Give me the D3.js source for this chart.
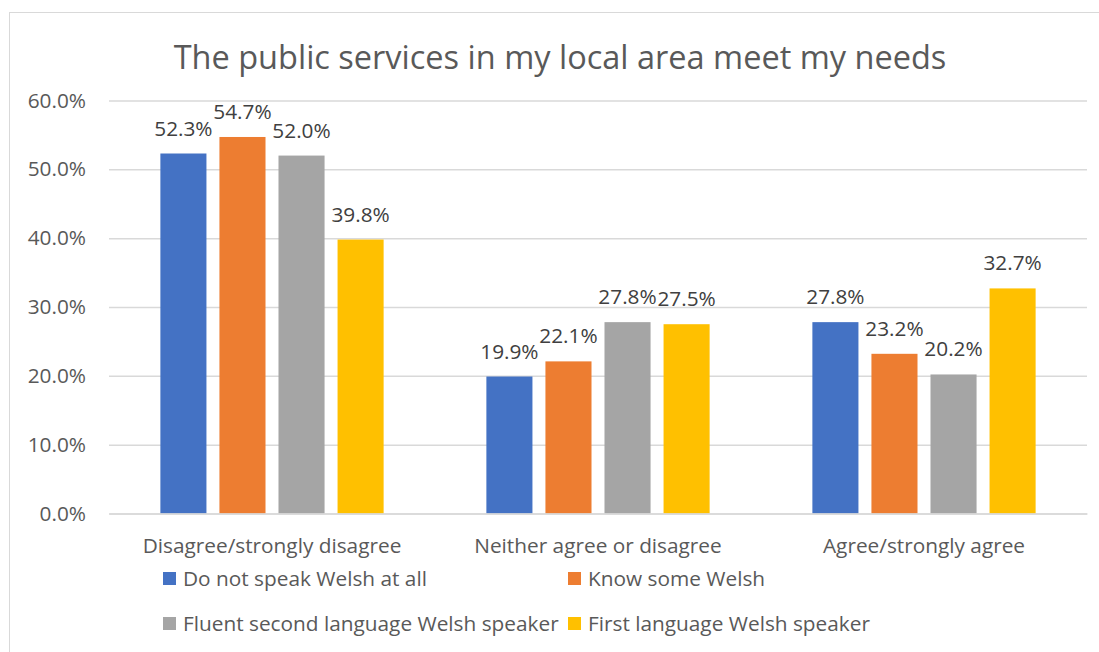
<!DOCTYPE html>
<html><head><meta charset="utf-8">
<script src="https://cdn.jsdelivr.net/npm/d3@7"></script>
<style>body{margin:0;background:#fff}svg{display:block}</style>
</head><body>
<script>
const categories = ["Disagree/strongly disagree","Neither agree or disagree","Agree/strongly agree"];
const seriesNames = ["Do not speak Welsh at all","Know some Welsh","Fluent second language Welsh speaker","First language Welsh speaker"];
const doNotSpeak = [52.3, 19.9, 27.8];
const knowSome = [54.7, 22.1, 23.2];
const fluentSecond = [52.0, 27.8, 20.2];
const firstLanguage = [39.8, 27.5, 32.7];
const yTicks = [0,10,20,30,40,50,60];
const colors = ["#4472C4","#ED7D31","#A5A5A5","#FFC000"];
const seriesValues = [doNotSpeak, knowSome, fluentSecond, firstLanguage];

const W=1099,H=652;
const font="'Open Sans', sans-serif";
const fs=20.8;
const svg=d3.select("body").append("svg").attr("width",W).attr("height",H);
svg.append("rect").attr("x",9.5).attr("y",12.5).attr("width",W+10).attr("height",H+10)
  .attr("fill","#fff").attr("stroke","#d9d9d9").attr("stroke-width",1);

const plot={l:109,r:1087,t:100.5,b:513.5};
const x0=d3.scaleBand().domain(categories).range([plot.l,plot.r]).paddingInner(0).paddingOuter(0);
const x1=d3.scaleBand().domain(d3.range(4)).range([0,x0.bandwidth()]).paddingInner(0.22).paddingOuter(0.87);
const y=d3.scaleLinear().domain([0,60]).range([plot.b,plot.t]);

svg.append("text").attr("x",560).attr("y",69).attr("text-anchor","middle")
  .attr("font-family",font).attr("font-size",32.5).attr("fill","#595959")
  .text("The public services in my local area meet my needs");

const yAxis=svg.append("g").attr("transform",`translate(${plot.l},0)`)
  .call(d3.axisLeft(y).tickValues(yTicks).tickSize(-(plot.r-plot.l)).tickFormat(d=>d.toFixed(1)+"%"));
yAxis.select(".domain").remove();
yAxis.selectAll(".tick line").attr("stroke","#d9d9d9").attr("stroke-width",1.5);
yAxis.selectAll(".tick text").attr("x",-23).attr("font-family",font).attr("font-size",fs).attr("fill","#595959");

const groups=svg.append("g").selectAll("g").data(categories).join("g")
  .attr("transform",d=>`translate(${x0(d)},0)`);
groups.each(function(cat,ci){
  const g=d3.select(this);
  seriesValues.forEach((vals,si)=>{
    const v=vals[ci];
    g.append("rect").attr("x",x1(si)).attr("width",x1.bandwidth())
      .attr("y",y(v)).attr("height",y(0)-y(v)).attr("fill",colors[si]);
    g.append("text").attr("x",x1(si)+x1.bandwidth()/2).attr("y",y(v)-18)
      .attr("text-anchor","middle").attr("font-family",font).attr("font-size",fs)
      .attr("fill","#404040").text(v.toFixed(1)+"%");
  });
});

const xAxis=svg.append("g").attr("transform",`translate(0,${plot.b})`)
  .call(d3.axisBottom(x0).tickSize(0));
xAxis.select(".domain").attr("stroke","#d9d9d9").attr("stroke-width",1.5);
xAxis.selectAll(".tick text").attr("dy",0).attr("y",39).attr("font-family",font).attr("font-size",fs).attr("fill","#595959");

const legPos=[[163,579],[568,579],[163,624],[568,624]];
const leg=svg.append("g").selectAll("g").data(seriesNames).join("g")
  .attr("transform",(d,i)=>`translate(${legPos[i][0]},${legPos[i][1]})`);
leg.append("rect").attr("x",0).attr("y",-7).attr("width",13).attr("height",13).attr("fill",(d,i)=>colors[i]);
leg.append("text").attr("x",20).attr("y",0).attr("dy","0.35em").attr("font-family",font).attr("font-size",fs)
  .attr("fill","#595959").text(d=>d);
</script>
</body></html>
